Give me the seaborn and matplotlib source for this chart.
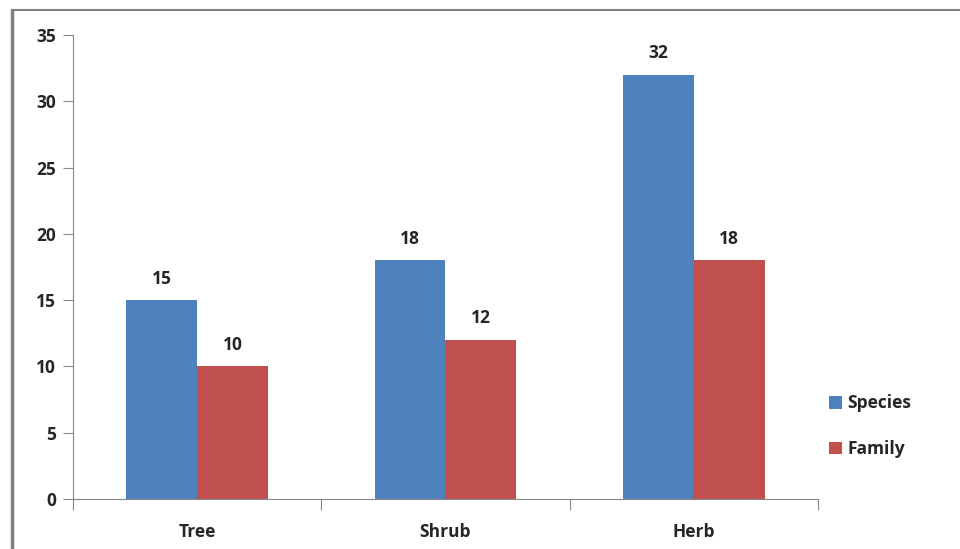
import pandas as pd
import numpy as np
import matplotlib.pyplot as plt
import seaborn as sns
from matplotlib.lines import Line2D

# data
categories = ['Tree', 'Shrub', 'Herb']
species = [15, 18, 32]
family = [10, 12, 18]

df = pd.DataFrame({
    'Habit': categories * 2,
    'Count': species + family,
    'Group': ['Species'] * 3 + ['Family'] * 3,
})

sns.set_style('white')
plt.rcParams['font.family'] = ['Open Sans', 'DejaVu Sans']
plt.rcParams['font.weight'] = 'semibold'

fig = plt.figure(figsize=(9.6, 5.49), dpi=100)
ax = fig.add_axes([0.076, 0.091, 0.776, 0.845])

palette = {'Species': '#4F81BD', 'Family': '#C0504D'}
sns.barplot(data=df, x='Habit', y='Count', hue='Group', palette=palette,
            width=0.57, gap=0, saturation=1, ax=ax, edgecolor='none')

for c in ax.containers:
    ax.bar_label(c, padding=9, fontsize=12.5, fontweight='bold')

ax.set_ylim(0, 35)
ax.set_xlim(-0.5, 2.5)
ax.set_yticks(np.arange(0, 36, 5))
ax.set_xlabel('')
ax.set_ylabel('')
ax.tick_params(axis='y', labelsize=12.5, length=7, width=0.8, color='#888888', pad=5, left=True)
ax.tick_params(axis='x', labelsize=12.5, length=0, pad=17)
ax.set_xticks([-0.5, 0.5, 1.5, 2.5], minor=True)
ax.tick_params(axis='x', which='minor', length=8, width=0.8, color='#888888', bottom=True)
for lbl in ax.get_xticklabels() + ax.get_yticklabels():
    lbl.set_fontweight('bold')

for s in ['top', 'right']:
    ax.spines[s].set_visible(False)
for s in ['left', 'bottom']:
    ax.spines[s].set_color('#888888')
    ax.spines[s].set_linewidth(0.8)

ax.legend(loc='center left', bbox_to_anchor=(1.0, 0.157), frameon=False,
          handlelength=0.75, handleheight=0.75,
          handletextpad=0.3, labelspacing=1.6, borderaxespad=0.25,
          prop={'weight': 'bold', 'size': 12.5})

# chart border
fig.add_artist(Line2D([0.0125, 0.0125], [0, 0.982], color='#808080', lw=2.5))
fig.add_artist(Line2D([0.0125, 1.0], [0.982, 0.982], color='#808080', lw=1.5))

fig.savefig('out.png', dpi=100)
